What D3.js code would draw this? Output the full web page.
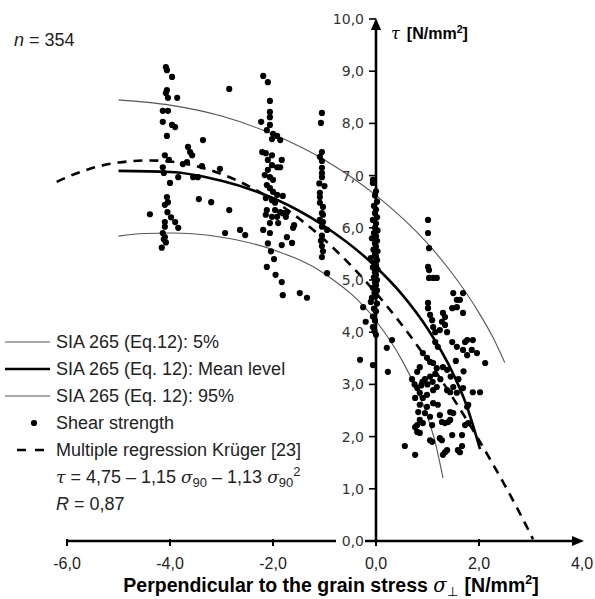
<!DOCTYPE html>
<html>
<head>
<meta charset="utf-8">
<script src="https://cdn.jsdelivr.net/npm/d3@7/dist/d3.min.js"></script>
<style>
  body { margin: 0; background: #fff; }
  svg { display: block; }
</style>
</head>
<body>
<div id="chart"></div>
<script>
// tick values
const xTicks = [-6, -4, -2, 0, 2, 4];
const yTicks = [0, 1, 2, 3, 4, 5, 6, 7, 8, 9, 10];

// SIA 265 (Eq. 12) curves [sigma, tau]
const sia5 = [[-5, 8.45], [-4, 8.35], [-3, 8.14], [-2, 7.79], [-1, 7.30], [0, 6.62], [1, 5.70], [1.5, 5.10], [2, 4.37], [2.25, 3.94], [2.5, 3.42]];
const siaMean = [[-5, 7.09], [-4, 7.07], [-3, 6.90], [-2, 6.57], [-1, 6.03], [0, 5.25], [0.5, 4.73], [1, 4.07], [1.5, 3.20], [1.75, 2.62], [2.02, 1.76]];
const sia95 = [[-5, 5.84], [-4.5, 5.89], [-4, 5.90], [-3, 5.82], [-2, 5.58], [-1, 5.12], [0, 4.22], [0.5, 3.47], [1, 2.38], [1.15, 1.89], [1.3, 1.21]];

// Multiple regression Krüger [23]
const kruger = [[-6.2, 6.88], [-6, 6.97], [-5, 7.25], [-4.4, 7.29], [-4, 7.27], [-3, 7.03], [-2, 6.53], [-1, 5.77], [0, 4.75], [1, 3.47], [2, 1.93], [3, 0.13], [3.05, 0.03]];

// shear strength tests [sigma, tau]
const shearA = [ // sigma about -4
  [-4.08, 9.08], [-4.06, 9.02], [-3.96, 8.89], [-4.06, 8.64], [-4.08, 8.58], [-4.04, 8.49], [-3.86, 8.49],
  [-4.14, 8.24], [-4.04, 8.24], [-4.14, 8.03], [-3.96, 7.97], [-3.90, 7.93], [-4.06, 7.76], [-4.10, 7.39],
  [-4.02, 7.30], [-4.14, 7.16], [-4.12, 7.05], [-4.00, 6.86], [-4.06, 6.59], [-4.04, 6.49], [-4.10, 6.44],
  [-4.39, 6.26], [-4.05, 6.30], [-3.98, 6.20], [-4.10, 6.11], [-3.90, 6.11], [-4.10, 6.02], [-3.84, 6.00],
  [-4.14, 5.90], [-4.10, 5.82], [-4.12, 5.78], [-4.08, 5.72], [-4.16, 5.62]
];
const shearB = [ // between -4 and -2
  [-3.36, 7.68], [-3.65, 7.55], [-3.61, 7.45], [-3.57, 7.39], [-3.67, 7.26], [-3.75, 7.22], [-3.38, 7.18],
  [-3.03, 7.13], [-3.84, 6.97], [-3.55, 6.97], [-3.46, 6.97], [-3.44, 6.55], [-3.20, 6.49], [-2.85, 8.66],
  [-2.85, 6.34], [-2.93, 5.90], [-2.64, 5.96], [-2.54, 5.86]
];
const shearC = [ // sigma about -2
  [-2.19, 8.91], [-2.10, 8.79], [-2.06, 8.43], [-2.06, 8.22], [-2.06, 8.12], [-2.23, 8.03], [-2.06, 7.97],
  [-2.12, 7.87], [-2.00, 7.80], [-1.92, 7.76], [-2.02, 7.70], [-1.86, 7.68], [-2.21, 7.45], [-2.14, 7.43],
  [-2.02, 7.39], [-2.10, 7.30], [-1.83, 7.30], [-2.02, 7.20], [-1.92, 7.16], [-1.86, 7.16], [-2.10, 7.11],
  [-2.16, 7.01], [-2.06, 6.97], [-2.00, 6.92], [-2.12, 6.82], [-2.06, 6.76], [-2.00, 6.69], [-1.92, 6.63],
  [-1.81, 6.61], [-2.14, 6.57], [-2.02, 6.53], [-1.96, 6.48], [-2.12, 6.34], [-1.96, 6.34], [-1.86, 6.30],
  [-1.81, 6.28], [-1.73, 6.30], [-2.14, 6.25], [-2.02, 6.21], [-1.92, 6.21], [-1.75, 6.21], [-2.06, 6.09],
  [-1.90, 6.09], [-1.59, 6.05], [-1.61, 6.00], [-2.19, 5.96], [-2.06, 5.90], [-1.73, 5.82], [-1.63, 5.71],
  [-2.10, 5.70], [-1.83, 5.67], [-2.04, 5.55], [-1.98, 5.40], [-2.12, 5.25], [-1.95, 5.10], [-1.83, 4.96],
  [-1.48, 4.75], [-1.81, 4.71], [-1.34, 4.66]
];
const shearD = [ // sigma about -1
  [-1.05, 8.20], [-1.07, 8.01], [-1.05, 7.45], [-1.09, 7.36], [-1.05, 7.28], [-1.05, 7.15], [-1.05, 7.05],
  [-1.05, 6.97], [-1.10, 6.85], [-1.00, 6.80], [-1.09, 6.67], [-1.09, 6.59], [-1.09, 6.48], [-1.03, 6.40],
  [-1.05, 6.28], [-1.03, 6.25], [-1.09, 6.15], [-1.03, 6.11], [-1.05, 6.02], [-0.95, 5.96], [-1.05, 5.85],
  [-1.07, 5.75], [-1.05, 5.65], [-1.03, 5.55], [-1.05, 5.44], [-0.95, 5.13]
];
const shearE = [ // sigma about 0
  [-0.06, 6.92], [-0.06, 6.86], [0.00, 6.70], [-0.02, 6.62], [0.02, 6.50], [-0.04, 6.42], [0.00, 6.35],
  [-0.02, 6.28], [0.02, 6.20], [-0.06, 6.15], [0.00, 6.08], [-0.02, 6.00], [0.03, 5.95], [-0.04, 5.90],
  [0.00, 5.84], [-0.08, 5.80], [0.02, 5.75], [-0.02, 5.70], [0.00, 5.64], [-0.05, 5.58], [0.03, 5.55],
  [-0.02, 5.50], [0.00, 5.45], [-0.10, 5.42], [0.02, 5.38], [-0.03, 5.33], [0.00, 5.28], [-0.06, 5.24],
  [0.03, 5.20], [-0.02, 5.15], [0.00, 5.10], [-0.04, 5.05], [0.02, 5.00], [-0.02, 4.95], [0.00, 4.90],
  [-0.06, 4.85], [0.02, 4.80], [-0.03, 4.75], [0.00, 4.70], [-0.08, 4.66], [-0.10, 4.58], [0.02, 4.55],
  [-0.25, 4.48], [-0.04, 4.45], [0.00, 4.40], [-0.06, 4.30], [-0.20, 4.20], [-0.02, 4.22], [-0.06, 4.10],
  [-0.03, 4.02], [0.00, 3.95], [0.31, 3.85], [0.21, 3.70], [-0.31, 3.47], [-0.06, 3.37], [0.23, 3.24]
];
const shearF = [ // sigma about 1
  [1.01, 6.15], [1.01, 5.90], [1.03, 5.61], [1.01, 5.25], [1.03, 5.19], [1.03, 5.04], [1.11, 5.04],
  [1.18, 5.04], [1.50, 4.75], [1.69, 4.75], [1.57, 4.62], [1.63, 4.62], [1.01, 4.56], [1.48, 4.46],
  [1.57, 4.48], [1.01, 4.46], [1.30, 4.37], [1.69, 4.37], [1.05, 4.33], [1.34, 4.29], [1.09, 4.23],
  [1.28, 4.20], [1.34, 4.14], [1.11, 4.10], [1.24, 4.04], [1.15, 4.00], [1.38, 4.00], [1.48, 3.81],
  [1.73, 3.81], [1.77, 3.85], [1.88, 3.85], [1.15, 3.81], [1.57, 3.72], [1.20, 3.72], [1.69, 3.66],
  [1.86, 3.66], [0.91, 3.60], [1.96, 3.60], [1.77, 3.56], [0.99, 3.51], [1.55, 3.45], [1.05, 3.43],
  [1.11, 3.41], [2.12, 3.41], [0.85, 3.33], [1.30, 3.33], [1.18, 3.31], [1.38, 3.28], [0.80, 3.24],
  [1.70, 3.25], [1.15, 3.20], [1.05, 3.15], [1.45, 3.15], [0.95, 3.10], [0.70, 3.10], [1.25, 3.10],
  [1.60, 3.10], [0.90, 3.05], [1.10, 3.05], [1.00, 3.00], [0.75, 3.00], [0.88, 2.98], [0.80, 2.93],
  [1.18, 2.95], [1.50, 2.95], [1.69, 2.93], [1.11, 2.89], [1.38, 2.89], [0.85, 2.84], [1.44, 2.85],
  [1.57, 2.84], [1.88, 2.85], [2.02, 2.85], [0.99, 2.80], [0.76, 2.74], [0.91, 2.74], [1.11, 2.64],
  [0.85, 2.61], [1.20, 2.61], [1.79, 2.61], [0.99, 2.57], [1.77, 2.57], [0.82, 2.47], [1.44, 2.47],
  [0.95, 2.45], [1.50, 2.45], [1.24, 2.41], [1.05, 2.38], [0.85, 2.32], [1.44, 2.32], [1.28, 2.28],
  [1.40, 2.28], [0.91, 2.26], [1.34, 2.26], [1.79, 2.26], [0.80, 2.22], [1.09, 2.22], [1.73, 2.22],
  [0.76, 2.18], [0.80, 2.09], [0.85, 2.07], [1.48, 2.03], [1.67, 2.03], [1.24, 1.97], [1.05, 1.93],
  [1.28, 1.93], [1.09, 1.90], [0.56, 1.82], [1.67, 1.82], [1.38, 1.74], [1.59, 1.74], [1.34, 1.70],
  [1.63, 1.70], [0.76, 1.65], [1.30, 1.65]
];
const shear = [].concat(shearA, shearB, shearC, shearD, shearE, shearF);

const width = 595;
const height = 599;

const svg = d3.select('#chart')
  .append('svg')
  .attr('width', width)
  .attr('height', height)
  .style('font-family', 'Arial, "Liberation Sans", sans-serif');

const x = d3.scaleLinear().domain([-6, 4]).range([67, 582]);
const y = d3.scaleLinear().domain([0, 10]).range([541, 19]);

// decimal comma and a plain hyphen for negatives, as in the original
const comma = (v) => d3.format('.1f')(v).replace('.', ',').replace('\u2212', '-');

const line = d3.line()
  .x((d) => x(d[0]))
  .y((d) => y(d[1]))
  .curve(d3.curveMonotoneX);

// curves
svg.append('path').datum(sia5)
  .attr('d', line).attr('fill', 'none').attr('stroke', '#555').attr('stroke-width', 1.1);
svg.append('path').datum(sia95)
  .attr('d', line).attr('fill', 'none').attr('stroke', '#555').attr('stroke-width', 1.1);
svg.append('path').datum(siaMean)
  .attr('d', line).attr('fill', 'none').attr('stroke', '#000').attr('stroke-width', 2.6);
svg.append('path').datum(kruger)
  .attr('d', line).attr('fill', 'none').attr('stroke', '#000').attr('stroke-width', 2.6)
  .attr('stroke-dasharray', '9,7');

// points
svg.append('g')
  .selectAll('circle')
  .data(shear)
  .join('circle')
  .attr('cx', (d) => x(d[0]))
  .attr('cy', (d) => y(d[1]))
  .attr('r', 3.1)
  .attr('fill', '#000');

// x axis
const xAxis = svg.append('g').attr('transform', `translate(0, ${y(0)})`);
xAxis.append('line')
  .attr('x1', x(-6)).attr('x2', x(4) - 4)
  .attr('stroke', '#000').attr('stroke-width', 2.6);
xAxis.append('path')
  .attr('d', `M${x(4) + 2},0 L${x(4) - 10},-5 L${x(4) - 10},5 Z`)
  .attr('fill', '#000');
xAxis.selectAll('.tick')
  .data(xTicks.filter((d) => d !== 4))
  .join('line')
  .attr('x1', (d) => x(d)).attr('x2', (d) => x(d))
  .attr('y1', -2).attr('y2', 5)
  .attr('stroke', '#000').attr('stroke-width', 2);
xAxis.selectAll('text')
  .data(xTicks)
  .join('text')
  .attr('x', (d) => x(d))
  .attr('y', 28)
  .attr('text-anchor', 'middle')
  .attr('font-size', 16)
  .attr('fill', '#222')
  .text(comma);

// y axis
const yAxis = svg.append('g').attr('transform', `translate(${x(0)}, 0)`);
yAxis.append('line')
  .attr('y1', y(0)).attr('y2', y(10) + 6)
  .attr('stroke', '#000').attr('stroke-width', 2.6);
yAxis.append('path')
  .attr('d', `M0,${y(10) - 1} L-5,${y(10) + 11} L5,${y(10) + 11} Z`)
  .attr('fill', '#000');
yAxis.selectAll('line.tick')
  .data(yTicks)
  .join('line')
  .attr('class', 'tick')
  .attr('x1', -7).attr('x2', 0)
  .attr('y1', (d) => y(d)).attr('y2', (d) => y(d))
  .attr('stroke', '#000').attr('stroke-width', 1.6);
// white patch behind the 0,0 label that sits on the x axis
yAxis.append('rect')
  .attr('x', -40).attr('y', y(0) - 8)
  .attr('width', 29).attr('height', 15)
  .attr('fill', '#fff');
yAxis.selectAll('text.tl')
  .data(yTicks)
  .join('text')
  .attr('class', 'tl')
  .attr('x', -12)
  .attr('y', (d) => y(d) + 5)
  .attr('text-anchor', 'end')
  .attr('font-family', 'Verdana, "DejaVu Sans", sans-serif')
  .attr('font-size', 14)
  .attr('fill', '#333')
  .text(comma);

// y title
const yt = svg.append('text')
  .attr('x', 391).attr('y', 39)
  .attr('font-size', 16).attr('font-weight', 'bold').attr('fill', '#000');
yt.append('tspan').attr('font-family', '"DejaVu Serif", serif').attr('font-style', 'italic').attr('font-weight', 'normal').text('τ');
yt.append('tspan').attr('dx', 7).text('[N/mm');
yt.append('tspan').attr('font-size', 10.5).attr('dy', -6).text('2');
yt.append('tspan').attr('dy', 6).text(']');

// x title
const xt = svg.append('text')
  .attr('x', 331).attr('y', 592)
  .attr('text-anchor', 'middle')
  .attr('font-size', 19.5).attr('font-weight', 'bold').attr('fill', '#000');
xt.append('tspan').text('Perpendicular to the grain stress ');
xt.append('tspan').attr('font-family', '"DejaVu Serif", serif').attr('font-style', 'italic').attr('font-weight', 'normal').text('σ');
xt.append('tspan').attr('font-size', 13).attr('dy', 4).attr('font-weight', 'normal').text('⊥');
xt.append('tspan').attr('dy', -4).attr('dx', 7).text('[N/mm');
xt.append('tspan').attr('font-size', 12.5).attr('dy', -8).text('2');
xt.append('tspan').attr('dy', 8).text(']');

// n = 354
const nt = svg.append('text')
  .attr('x', 14).attr('y', 46)
  .attr('font-size', 18).attr('fill', '#222');
nt.append('tspan').attr('font-style', 'italic').text('n');
nt.append('tspan').text(' = 354');

// legend
const legend = svg.append('g').attr('font-size', 18).attr('fill', '#222');
const rows = [348, 375, 402, 429, 456, 483, 510];
const legendLabels = ['SIA 265 (Eq.12): 5%', 'SIA 265 (Eq. 12): Mean level', 'SIA 265 (Eq. 12): 95%', 'Shear strength', 'Multiple regression Krüger [23]'];

legend.selectAll('text.lab')
  .data(legendLabels)
  .join('text')
  .attr('class', 'lab')
  .attr('x', 56)
  .attr('y', (d, i) => rows[i])
  .text((d) => d);

legend.append('line').attr('x1', 5).attr('x2', 50).attr('y1', rows[0] - 6).attr('y2', rows[0] - 6)
  .attr('stroke', '#555').attr('stroke-width', 1.1);
legend.append('line').attr('x1', 5).attr('x2', 50).attr('y1', rows[1] - 6).attr('y2', rows[1] - 6)
  .attr('stroke', '#000').attr('stroke-width', 2.6);
legend.append('line').attr('x1', 5).attr('x2', 50).attr('y1', rows[2] - 6).attr('y2', rows[2] - 6)
  .attr('stroke', '#555').attr('stroke-width', 1.1);
legend.append('circle').attr('cx', 34).attr('cy', rows[3] - 6).attr('r', 3.1).attr('fill', '#000');
legend.append('line').attr('x1', 17).attr('x2', 45).attr('y1', rows[4] - 6).attr('y2', rows[4] - 6)
  .attr('stroke', '#000').attr('stroke-width', 2.6).attr('stroke-dasharray', '9,9');

const eq = legend.append('text').attr('x', 56).attr('y', rows[5]);
eq.append('tspan').attr('font-style', 'italic').attr('font-family', '"DejaVu Serif", serif').attr('font-size', 17).text('τ');
eq.append('tspan').text(' = 4,75 – 1,15 ');
eq.append('tspan').attr('font-style', 'italic').attr('font-family', '"DejaVu Serif", serif').attr('font-size', 17).text('σ');
eq.append('tspan').attr('font-size', 13).attr('dy', 4).text('90');
eq.append('tspan').attr('dy', -4).text(' – 1,13 ');
eq.append('tspan').attr('font-style', 'italic').attr('font-family', '"DejaVu Serif", serif').attr('font-size', 17).text('σ');
eq.append('tspan').attr('font-size', 13).attr('dy', 4).text('90');
eq.append('tspan').attr('font-size', 13).attr('dy', -11).text('2');

const rt = legend.append('text').attr('x', 56).attr('y', rows[6]);
rt.append('tspan').attr('font-style', 'italic').text('R');
rt.append('tspan').text(' = 0,87');
</script>
</body>
</html>
